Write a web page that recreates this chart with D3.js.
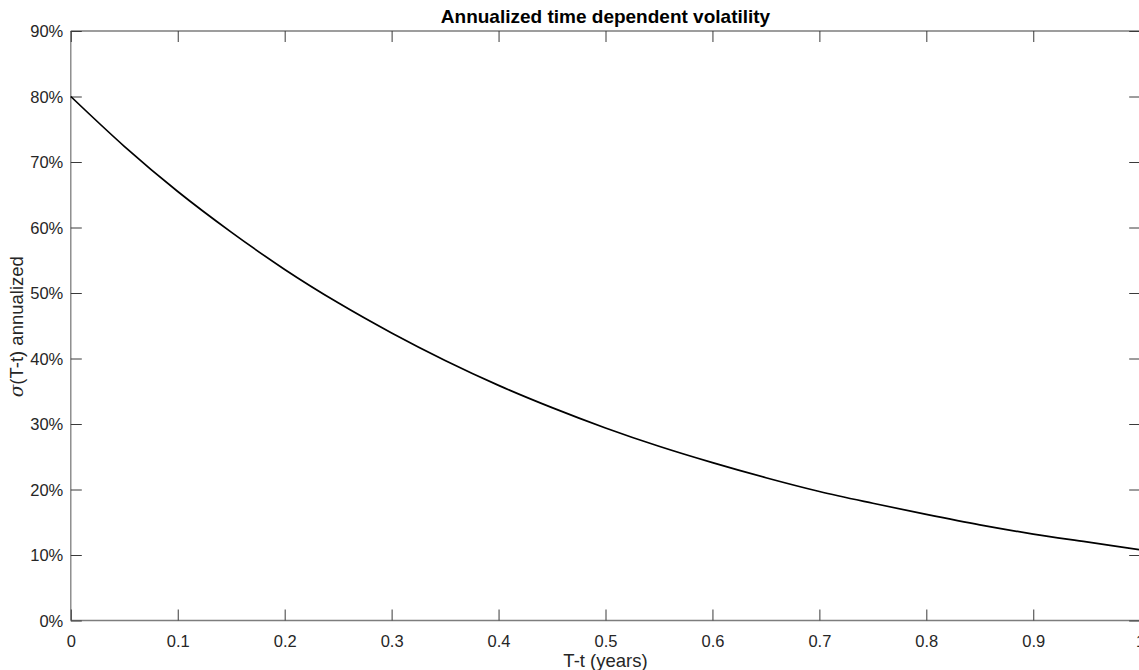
<!DOCTYPE html>
<html>
<head>
<meta charset="utf-8">
<script src="https://cdn.jsdelivr.net/npm/d3@7"></script>
<style>
  html, body { margin: 0; padding: 0; background: #fff; }
  svg { display: block; font-family: "Liberation Sans", Arial, Helvetica, sans-serif; }
</style>
</head>
<body>
<svg id="chart" width="1139" height="670"></svg>
<script>
// Data
const tValues = [0, 0.05, 0.1, 0.15, 0.2, 0.25, 0.3, 0.35, 0.4, 0.45, 0.5,
                 0.55, 0.6, 0.65, 0.7, 0.75, 0.8, 0.85, 0.9, 0.95, 1.0];
const volValues = [0.800, 0.724, 0.655, 0.593, 0.536, 0.485, 0.439, 0.397, 0.359, 0.325, 0.294,
                   0.266, 0.241, 0.218, 0.197, 0.179, 0.162, 0.146, 0.132, 0.120, 0.108];
const xTicks = [0, 0.1, 0.2, 0.3, 0.4, 0.5, 0.6, 0.7, 0.8, 0.9, 1];
const yTicks = [0, 0.1, 0.2, 0.3, 0.4, 0.5, 0.6, 0.7, 0.8, 0.9];
const titleText = "Annualized time dependent volatility";
const xLabelText = "T-t (years)";

(function () {
const svg = d3.select("#chart");
const pLeft = 70.8, pRight = 1140.2, pTop = 31, pBottom = 620.5;

const x = d3.scaleLinear().domain([0, 1]).range([pLeft, pRight]);
const y = d3.scaleLinear().domain([0, 0.9]).range([pBottom, pTop]);

const axisColor = "#262626";
const tickLen = 11;

// Box lines
const box = svg.append("g").attr("stroke", "#7d7d7d").attr("stroke-width", 1.3).attr("fill", "none");
box.append("line").attr("x1", pLeft).attr("x2", pRight).attr("y1", pTop).attr("y2", pTop);
box.append("line").attr("x1", pLeft).attr("x2", pRight).attr("y1", pBottom).attr("y2", pBottom);
box.append("line").attr("x1", pLeft).attr("x2", pLeft).attr("y1", pTop).attr("y2", pBottom);
box.append("line").attr("x1", pRight).attr("x2", pRight).attr("y1", pTop).attr("y2", pBottom);

// Axes with inward ticks
const xAxisBottom = d3.axisBottom(x).tickValues(xTicks).tickSizeInner(-tickLen).tickSizeOuter(0)
  .tickFormat(d3.format("~g"));
const gxb = svg.append("g").attr("transform", `translate(0,${pBottom})`).call(xAxisBottom);

const xAxisTop = d3.axisTop(x).tickValues(xTicks).tickSizeInner(-tickLen).tickSizeOuter(0).tickFormat("");
const gxt = svg.append("g").attr("transform", `translate(0,${pTop})`).call(xAxisTop);

const yAxisLeft = d3.axisLeft(y).tickValues(yTicks).tickSizeInner(-tickLen).tickSizeOuter(0)
  .tickFormat(d3.format(".0%"));
const gyl = svg.append("g").attr("transform", `translate(${pLeft},0)`).call(yAxisLeft);

const yAxisRight = d3.axisRight(y).tickValues(yTicks).tickSizeInner(-tickLen).tickSizeOuter(0).tickFormat("");
const gyr = svg.append("g").attr("transform", `translate(${pRight},0)`).call(yAxisRight);

[gxb, gxt, gyl, gyr].forEach(g => {
  g.select(".domain").remove();
  g.selectAll(".tick line").attr("stroke", "#3a3a3a").attr("stroke-width", 1);
  g.selectAll(".tick text")
    .attr("fill", axisColor)
    .style("font-family", '"Liberation Sans", Arial, Helvetica, sans-serif')
    .style("font-size", "16.5px");
});
gxb.selectAll(".tick text").attr("y", 26.8).attr("dy", null);
gyl.selectAll(".tick text").attr("x", -7.5).attr("dy", "0.36em");

// Curve
const pts = tValues.map((t, i) => [t, volValues[i]]);
const line = d3.line().x(d => x(d[0])).y(d => y(d[1])).curve(d3.curveMonotoneX);
svg.append("path").datum(pts)
  .attr("d", line)
  .attr("fill", "none")
  .attr("stroke", "#000")
  .attr("stroke-width", 1.7);

// Title
svg.append("text")
  .attr("x", (pLeft + pRight) / 2).attr("y", 23.3)
  .attr("text-anchor", "middle")
  .style("font-size", "19px").style("font-weight", "bold")
  .attr("fill", "#000")
  .text(titleText);

// X label
svg.append("text")
  .attr("x", (pLeft + pRight) / 2).attr("y", 666.5)
  .attr("text-anchor", "middle")
  .style("font-size", "18.5px")
  .attr("fill", axisColor)
  .text(xLabelText);

// Y label
const yl = svg.append("text")
  .attr("transform", `translate(23,${(pTop + pBottom) / 2 + 1}) rotate(-90)`)
  .attr("text-anchor", "middle")
  .style("font-size", "18.5px")
  .attr("fill", axisColor);
yl.append("tspan").style("font-style", "italic").style("font-family", '"DejaVu Serif", "Liberation Serif", serif').text("σ");
yl.append("tspan").text("(T-t) annualized");
})();
</script>
</body>
</html>
